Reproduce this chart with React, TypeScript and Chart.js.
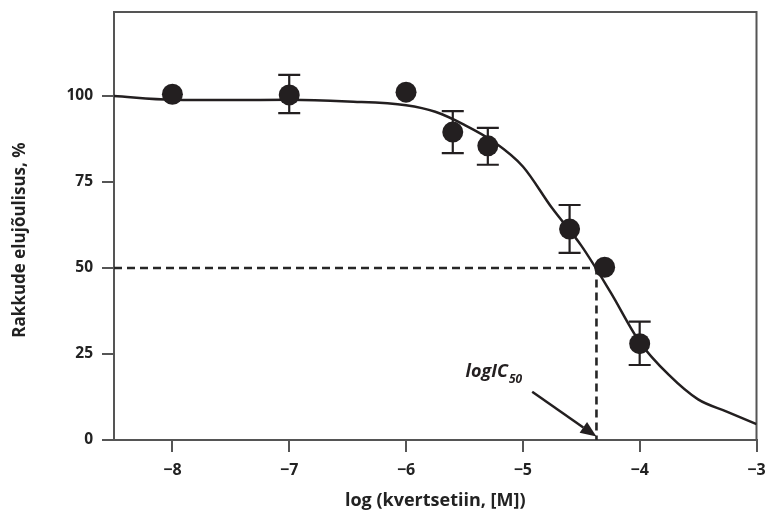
import React, { useEffect, useRef } from "react";
import { Chart, registerables } from "chart.js";

Chart.register(...registerables);

// Measured points
const doseLog = [-8, -7, -6, -5.6, -5.3, -4.6, -4.3, -4.0];
const viability = [100.5, 100.3, 101.1, 89.5, 85.5, 61.3, 50.2, 28.0];
const errLow = [null, 95.0, null, 83.4, 80.0, 54.4, null, 21.8];
const errHigh = [null, 106.1, null, 95.6, 90.7, 68.3, null, 34.4];

// Fitted curve
const curveX = [-8.5, -8, -7.5, -7, -6.5, -6, -5.75, -5.5, -5.25, -5, -4.75, -4.5, -4.25, -4, -3.75, -3.5, -3.25, -3];
const curveY = [100, 98.9, 98.8, 98.9, 98.4, 97.3, 95.4, 91.6, 86.7, 79.5, 67.4, 56.5, 43, 28.5, 18.9, 11.8, 8.2, 4.6];

// Ticks
const xTicks = [-8, -7, -6, -5, -4, -3];
const yTicks = [0, 25, 50, 75, 100];

// IC50 annotation
const ic50X = -4.37;
const ic50Y = 50;
const arrowFrom = [-4.92, 14];
const arrowTo = [-4.37, 1.0];
const labelAt = [-5.49, 18.3];

const INK = "#231f20";
const AXIS = "#555555";
const TEXT = "#222222";
const FONT = "'Open Sans', 'Noto Sans', sans-serif";

const extras = {
  id: "extras",
  beforeDatasetsDraw(chart: any) {
    const { ctx, chartArea, scales } = chart;
    const xs = scales.x;
    const ys = scales.y;
    ctx.save();
    // frame top / right
    ctx.strokeStyle = AXIS;
    ctx.lineWidth = 2;
    ctx.beginPath();
    ctx.moveTo(chartArea.left, chartArea.top);
    ctx.lineTo(chartArea.right, chartArea.top);
    ctx.lineTo(chartArea.right, chartArea.bottom);
    ctx.stroke();

    // dashed IC50 guides
    ctx.strokeStyle = "#262626";
    ctx.lineWidth = 2.6;
    ctx.setLineDash([8, 5]);
    ctx.beginPath();
    ctx.moveTo(chartArea.left, ys.getPixelForValue(ic50Y));
    ctx.lineTo(xs.getPixelForValue(ic50X), ys.getPixelForValue(ic50Y));
    ctx.lineTo(xs.getPixelForValue(ic50X), ys.getPixelForValue(0));
    ctx.stroke();
    ctx.setLineDash([]);

    // error bars
    ctx.strokeStyle = INK;
    ctx.lineWidth = 2.2;
    doseLog.forEach((x, i) => {
      const lo = errLow[i];
      const hi = errHigh[i];
      if (lo == null || hi == null) return;
      const px = xs.getPixelForValue(x);
      const pl = ys.getPixelForValue(lo);
      const ph = ys.getPixelForValue(hi);
      ctx.beginPath();
      ctx.moveTo(px, pl);
      ctx.lineTo(px, ph);
      ctx.moveTo(px - 11, pl);
      ctx.lineTo(px + 11, pl);
      ctx.moveTo(px - 11, ph);
      ctx.lineTo(px + 11, ph);
      ctx.stroke();
    });
    ctx.restore();
  },
  afterDatasetsDraw(chart: any) {
    const { ctx, chartArea, scales } = chart;
    const xs = scales.x;
    const ys = scales.y;
    ctx.save();
    // arrow
    const x1 = xs.getPixelForValue(arrowFrom[0]);
    const y1 = ys.getPixelForValue(arrowFrom[1]);
    const x2 = xs.getPixelForValue(arrowTo[0]);
    const y2 = ys.getPixelForValue(arrowTo[1]);
    const ang = Math.atan2(y2 - y1, x2 - x1);
    const headLen = 16;
    const headW = 6.5;
    const bx = x2 - headLen * Math.cos(ang);
    const by = y2 - headLen * Math.sin(ang);
    ctx.strokeStyle = INK;
    ctx.fillStyle = INK;
    ctx.lineWidth = 2.5;
    ctx.beginPath();
    ctx.moveTo(x1, y1);
    ctx.lineTo(bx, by);
    ctx.stroke();
    ctx.beginPath();
    ctx.moveTo(x2, y2);
    ctx.lineTo(bx + headW * Math.sin(ang), by - headW * Math.cos(ang));
    ctx.lineTo(bx - headW * Math.sin(ang), by + headW * Math.cos(ang));
    ctx.closePath();
    ctx.fill();

    // label logIC50
    const lx = xs.getPixelForValue(labelAt[0]);
    const ly = ys.getPixelForValue(labelAt[1]);
    ctx.fillStyle = INK;
    ctx.textBaseline = "alphabetic";
    ctx.textAlign = "left";
    ctx.font = `italic bold 18px ${FONT}`;
    ctx.fillText("logIC", lx, ly);
    const w = ctx.measureText("logIC").width;
    ctx.font = `italic bold 12px ${FONT}`;
    ctx.fillText("50", lx + w + 1, ly + 6);

    // y axis title
    ctx.fillStyle = TEXT;
    ctx.font = `bold 17px ${FONT}`;
    ctx.textAlign = "center";
    ctx.textBaseline = "middle";
    ctx.translate(20, (chartArea.top + chartArea.bottom) / 2 + 14);
    ctx.rotate(-Math.PI / 2);
    ctx.fillText("Rakkude elujõulisus, %", 0, 0);
    ctx.restore();
  },
};

export default function App() {
  const ref = useRef<HTMLCanvasElement | null>(null);
  useEffect(() => {
    if (!ref.current) return;
    const chart = new Chart(ref.current, {
      type: "scatter",
      data: {
        datasets: [
          {
            label: "fit",
            data: curveX.map((x, i) => ({ x, y: curveY[i] })),
            showLine: true,
            borderColor: INK,
            borderWidth: 2.5,
            pointRadius: 0,
            cubicInterpolationMode: "monotone",
            order: 2,
          } as any,
          {
            label: "measured",
            data: doseLog.map((x, i) => ({ x, y: viability[i] })),
            showLine: false,
            pointRadius: 10.5,
            pointBackgroundColor: INK,
            pointBorderColor: INK,
            pointBorderWidth: 0,
            order: 1,
          },
        ],
      },
      options: {
        animation: false,
        responsive: false,
        layout: { padding: { top: 12, right: 10, left: 0, bottom: 0 } },
        plugins: { legend: { display: false }, tooltip: { enabled: false } },
        scales: {
          x: {
            type: "linear",
            min: -8.5,
            max: -3,
            afterBuildTicks: (s: any) => {
              s.ticks = xTicks.map((v) => ({ value: v }));
            },
            afterFit: (s: any) => {
              s.height = 72;
              s.paddingLeft = 0;
              s.paddingRight = 0;
            },
            grid: { drawOnChartArea: false, drawTicks: true, tickLength: 12, color: AXIS, lineWidth: 2 },
            border: { display: true, color: AXIS, width: 2 },
            ticks: {
              color: TEXT,
              padding: 9,
              font: { family: FONT, size: 16, weight: "bold" },
              callback: (v: any) => (v < 0 ? "\u2212" + Math.abs(v) : String(v)),
            },
            title: {
              display: true,
              text: "log (kvertsetiin, [M])",
              color: TEXT,
              font: { family: FONT, size: 18, weight: "bold" },
              padding: { top: 8, bottom: 0 },
            },
          },
          y: {
            type: "linear",
            min: 0,
            max: 124.4,
            afterBuildTicks: (s: any) => {
              s.ticks = yTicks.map((v) => ({ value: v }));
            },
            afterFit: (s: any) => {
              s.width = 114;
              s.paddingTop = 0;
              s.paddingBottom = 0;
            },
            grid: { drawOnChartArea: false, drawTicks: true, tickLength: 12, color: AXIS, lineWidth: 2 },
            border: { display: true, color: AXIS, width: 2 },
            ticks: {
              color: TEXT,
              padding: 9,
              font: { family: FONT, size: 15.5, weight: "bold" },
            },
          },
        },
      },
      plugins: [extras],
    });
    return () => chart.destroy();
  }, []);
  return (
    <div style={{ position: "fixed", left: 0, top: 0, width: 767, height: 512, background: "#fff" }}>
      <canvas ref={ref} width={767} height={512} />
    </div>
  );
}
